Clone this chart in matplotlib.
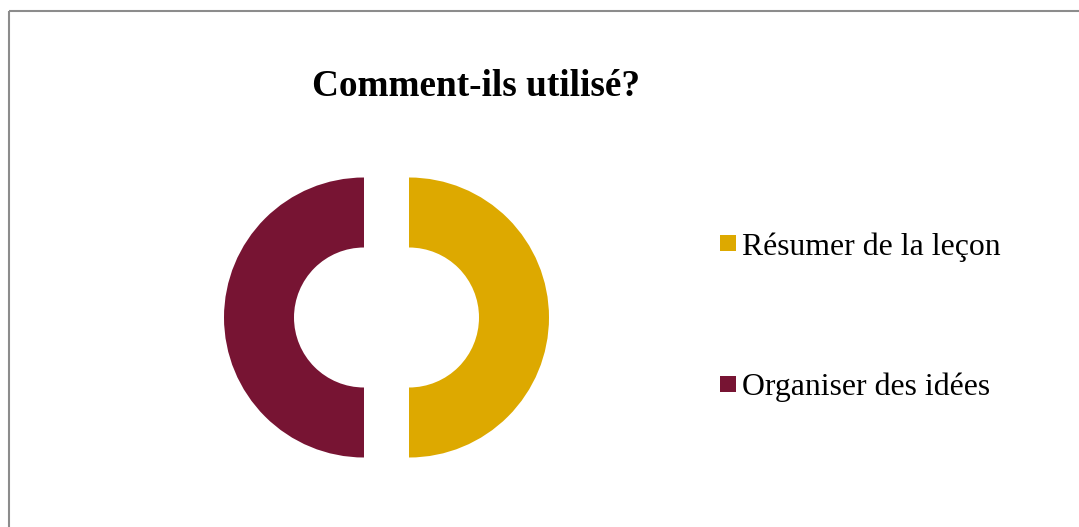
import matplotlib
matplotlib.use("Agg")
from matplotlib import pyplot as plt
from matplotlib.lines import Line2D

labels = ["Résumer de la leçon", "Organiser des idées"]
values = [50, 50]
colors = ["#DDA900", "#771433"]
title = "Comment-ils utilisé?"

W, H = 1079, 527
fig = plt.figure(figsize=(W / 100, H / 100), dpi=100)
ax = fig.add_axes([0, 0, 1, 1])

# donut, both halves pulled apart (explode is in data units here)
ax.pie(values, colors=colors, startangle=90, counterclock=False,
       radius=140, center=(386.5, H - 317.5), explode=[22.5, 22.5],
       wedgeprops=dict(width=70, linewidth=0), frame=True)
ax.set_xlim(0, W)
ax.set_ylim(0, H)
ax.set_aspect("equal")
ax.axis("off")

# frame border (top and left visible)
ax.plot([9, 9], [0, H - 11], color="#8c8c8c", lw=1.5, solid_capstyle="butt")
ax.plot([9, W], [H - 11, H - 11], color="#8c8c8c", lw=1.5, solid_capstyle="butt")

fig.text(476.5 / W, 1 - 86 / H, title, ha="center", va="center",
         fontsize=26.8, fontweight="bold", family="Liberation Serif")

handles = [Line2D([], [], marker="s", linestyle="none", markersize=12.2,
                  markerfacecolor=c, markeredgewidth=0) for c in colors]
fig.legend(handles, labels, loc="upper left",
           bbox_to_anchor=(715 / W, 1 - 232 / H), frameon=False,
           prop=dict(family="Liberation Serif", size=22.9),
           labelspacing=3.48, handletextpad=0.05, handlelength=0.8,
           borderaxespad=0, borderpad=0)

fig.savefig("out.png", dpi=100, facecolor="white")
